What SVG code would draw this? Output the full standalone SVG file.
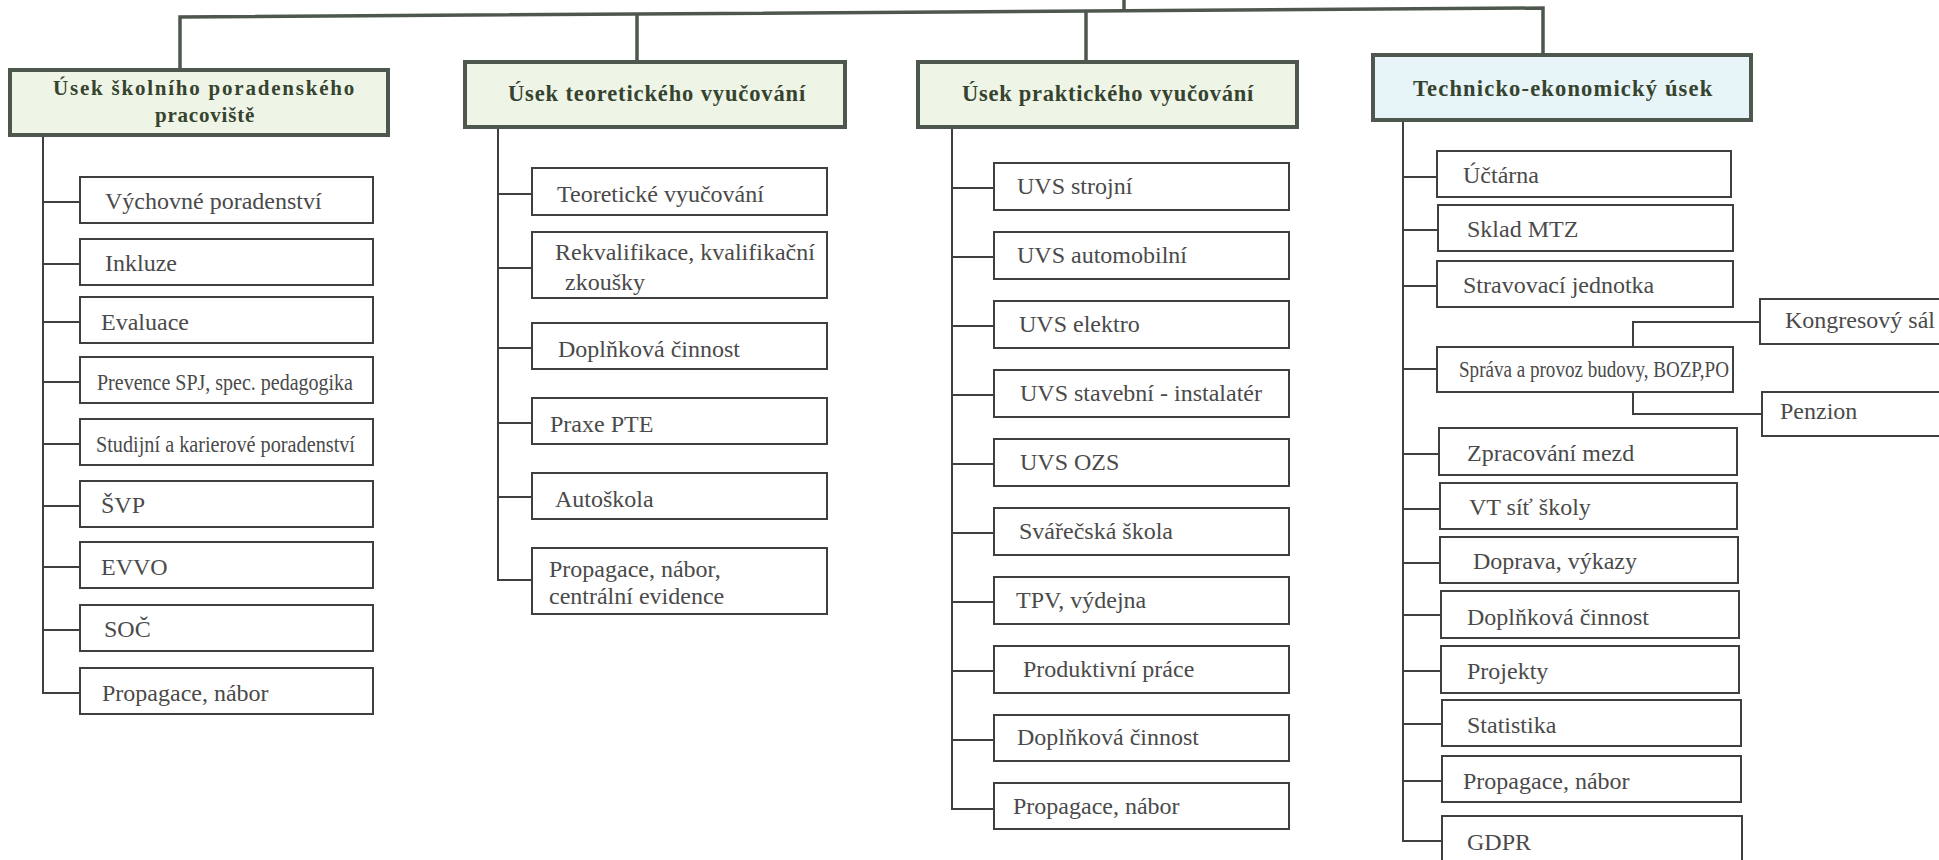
<svg xmlns="http://www.w3.org/2000/svg" width="1939" height="860" viewBox="0 0 1939 860">
<style>
.bg{fill:#ffffff}
.hdr{fill:#eef5e7;stroke:#4e574d;stroke-width:4}
.hdrb{fill:#e7f4f8;stroke:#4e574d;stroke-width:4}
.box{fill:#ffffff;stroke:#3f3f3f;stroke-width:2}
.ht{font-family:"Liberation Serif",serif;font-weight:bold;font-size:22.5px;fill:#36432f;letter-spacing:0.8px;text-anchor:middle}
.ht2{font-family:"Liberation Serif",serif;font-weight:bold;font-size:21px;fill:#36432f;letter-spacing:0.8px;text-anchor:middle}
.t{font-family:"Liberation Serif",serif;font-size:24px;fill:#4a4a4a}
.main{fill:none;stroke:#4e574d;stroke-width:3.5}
.c{fill:none;stroke:#3f3f3f;stroke-width:2}
</style>
<rect class="bg" x="0" y="0" width="1939" height="860"/>

<g id="connectors">
  <path class="main" d="M180,70 V17 L1543,8 V55"/>
  <path class="main" d="M637,62 V14"/>
  <path class="main" d="M1086,62 V12"/>
  <path class="main" d="M1124,11 V0"/>
  <path class="c" d="M43,135 V693 H80 M43,202 H80 M43,264 H80 M43,322 H80 M43,382 H80 M43,444 H80 M43,506 H80 M43,567 H80 M43,630 H80"/>
  <path class="c" d="M498,127 V580 H532 M498,194 H532 M498,268 H532 M498,348 H532 M498,423 H532 M498,497 H532"/>
  <path class="c" d="M952,127 V809 H994 M952,188 H994 M952,257 H994 M952,326 H994 M952,395 H994 M952,464 H994 M952,533 H994 M952,602 H994 M952,671 H994 M952,740 H994"/>
  <path class="c" d="M1403,120 V841 H1442 M1403,177 H1437 M1403,230 H1438 M1403,286 H1437 M1403,369 H1437 M1403,454 H1439 M1403,509 H1440 M1403,563 H1440 M1403,615 H1441 M1403,671 H1441 M1403,724 H1442 M1403,781 H1442"/>
  <path class="c" d="M1633,347 V322 H1760 M1633,392 V414 H1762"/>
</g>

<g id="hdr1"><rect class="hdr" x="10" y="70" width="378" height="65"/>
  <text class="ht2" x="204" y="95" textLength="302">Úsek školního poradenského</text>
  <text class="ht2" x="205" y="122">pracoviště</text></g>
<g id="hdr2"><rect class="hdr" x="465" y="62" width="380" height="65"/>
  <text class="ht" x="657" y="101" textLength="298">Úsek teoretického vyučování</text></g>
<g id="hdr3"><rect class="hdr" x="918" y="62" width="379" height="65"/>
  <text class="ht" x="1108" y="101" textLength="292">Úsek praktického vyučování</text></g>
<g id="hdr4"><rect class="hdrb" x="1373" y="55" width="378" height="65"/>
  <text class="ht" x="1563" y="96" textLength="300">Technicko-ekonomický úsek</text></g>

<g id="g1-1"><rect class="box" x="80" y="177" width="293" height="46"/><text class="t" x="105" y="209">Výchovné poradenství</text></g>
<g id="g1-2"><rect class="box" x="80" y="239" width="293" height="46"/><text class="t" x="105" y="271">Inkluze</text></g>
<g id="g1-3"><rect class="box" x="80" y="297" width="293" height="46"/><text class="t" x="101" y="330">Evaluace</text></g>
<g id="g1-4"><rect class="box" x="80" y="357" width="293" height="46"/><text class="t" x="97" y="390" textLength="256" lengthAdjust="spacingAndGlyphs">Prevence SPJ, spec. pedagogika</text></g>
<g id="g1-5"><rect class="box" x="80" y="419" width="293" height="46"/><text class="t" x="96" y="452" textLength="259" lengthAdjust="spacingAndGlyphs">Studijní a karierové poradenství</text></g>
<g id="g1-6"><rect class="box" x="80" y="481" width="293" height="46"/><text class="t" x="101" y="513">ŠVP</text></g>
<g id="g1-7"><rect class="box" x="80" y="542" width="293" height="46"/><text class="t" x="101" y="575">EVVO</text></g>
<g id="g1-8"><rect class="box" x="80" y="605" width="293" height="46"/><text class="t" x="104" y="637">SOČ</text></g>
<g id="g1-9"><rect class="box" x="80" y="668" width="293" height="46"/><text class="t" x="102" y="701">Propagace, nábor</text></g>

<g id="g2-1"><rect class="box" x="532" y="168" width="295" height="47"/><text class="t" x="557" y="202">Teoretické vyučování</text></g>
<g id="g2-2"><rect class="box" x="532" y="232" width="295" height="66"/><text class="t" x="555" y="260">Rekvalifikace, kvalifikační</text><text class="t" x="565" y="290">zkoušky</text></g>
<g id="g2-3"><rect class="box" x="532" y="323" width="295" height="46"/><text class="t" x="558" y="357">Doplňková činnost</text></g>
<g id="g2-4"><rect class="box" x="532" y="398" width="295" height="46"/><text class="t" x="550" y="432">Praxe PTE</text></g>
<g id="g2-5"><rect class="box" x="532" y="473" width="295" height="46"/><text class="t" x="555" y="507">Autoškola</text></g>
<g id="g2-6"><rect class="box" x="532" y="548" width="295" height="66"/><text class="t" x="549" y="577">Propagace, nábor,</text><text class="t" x="549" y="604">centrální evidence</text></g>

<g id="g3-1"><rect class="box" x="994" y="163" width="295" height="47"/><text class="t" x="1017" y="194">UVS strojní</text></g>
<g id="g3-2"><rect class="box" x="994" y="232" width="295" height="47"/><text class="t" x="1017" y="263">UVS automobilní</text></g>
<g id="g3-3"><rect class="box" x="994" y="301" width="295" height="47"/><text class="t" x="1019" y="332">UVS elektro</text></g>
<g id="g3-4"><rect class="box" x="994" y="370" width="295" height="47"/><text class="t" x="1020" y="401">UVS stavební - instalatér</text></g>
<g id="g3-5"><rect class="box" x="994" y="439" width="295" height="47"/><text class="t" x="1020" y="470">UVS OZS</text></g>
<g id="g3-6"><rect class="box" x="994" y="508" width="295" height="47"/><text class="t" x="1019" y="539">Svářečská škola</text></g>
<g id="g3-7"><rect class="box" x="994" y="577" width="295" height="47"/><text class="t" x="1016" y="608">TPV, výdejna</text></g>
<g id="g3-8"><rect class="box" x="994" y="646" width="295" height="47"/><text class="t" x="1023" y="677">Produktivní práce</text></g>
<g id="g3-9"><rect class="box" x="994" y="715" width="295" height="46"/><text class="t" x="1017" y="745">Doplňková činnost</text></g>
<g id="g3-10"><rect class="box" x="994" y="783" width="295" height="46"/><text class="t" x="1013" y="814">Propagace, nábor</text></g>

<g id="g4-1"><rect class="box" x="1437" y="151" width="294" height="46"/><text class="t" x="1463" y="183">Účtárna</text></g>
<g id="g4-2"><rect class="box" x="1438" y="205" width="295" height="46"/><text class="t" x="1467" y="237">Sklad MTZ</text></g>
<g id="g4-3"><rect class="box" x="1437" y="261" width="296" height="46"/><text class="t" x="1463" y="293">Stravovací jednotka</text></g>
<g id="g4-4"><rect class="box" x="1437" y="347" width="296" height="45"/><text class="t" x="1459" y="377" textLength="270" lengthAdjust="spacingAndGlyphs">Správa a provoz budovy, BOZP,PO</text></g>
<g id="g4-4a"><rect class="box" x="1760" y="299" width="200" height="45"/><text class="t" x="1785" y="328">Kongresový sál</text></g>
<g id="g4-4b"><rect class="box" x="1762" y="392" width="200" height="44"/><text class="t" x="1780" y="419">Penzion</text></g>
<g id="g4-5"><rect class="box" x="1439" y="428" width="298" height="47"/><text class="t" x="1467" y="461">Zpracování mezd</text></g>
<g id="g4-6"><rect class="box" x="1440" y="483" width="297" height="46"/><text class="t" x="1469" y="515">VT síť školy</text></g>
<g id="g4-7"><rect class="box" x="1440" y="537" width="298" height="46"/><text class="t" x="1473" y="569">Doprava, výkazy</text></g>
<g id="g4-8"><rect class="box" x="1441" y="591" width="298" height="47"/><text class="t" x="1467" y="625">Doplňková činnost</text></g>
<g id="g4-9"><rect class="box" x="1441" y="646" width="298" height="47"/><text class="t" x="1467" y="679">Projekty</text></g>
<g id="g4-10"><rect class="box" x="1442" y="700" width="299" height="46"/><text class="t" x="1467" y="733">Statistika</text></g>
<g id="g4-11"><rect class="box" x="1442" y="756" width="299" height="46"/><text class="t" x="1463" y="789">Propagace, nábor</text></g>
<g id="g4-12"><rect class="box" x="1442" y="816" width="300" height="60"/><text class="t" x="1467" y="850">GDPR</text></g>
</svg>
